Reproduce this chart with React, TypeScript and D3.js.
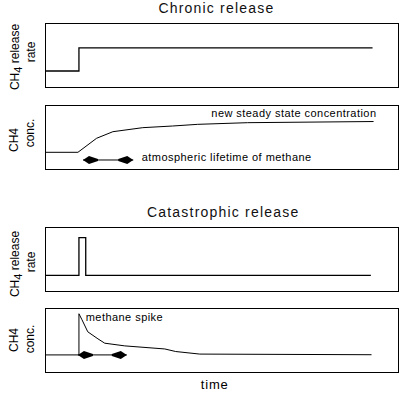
import * as d3 from "d3";
import { useEffect, useRef } from "react";

// time axis runs 0..104, values in each panel are 0..1 (box bottom to top)
const chronicRateT = [0, 10, 10, 96.5];
const chronicRateV = [0.25, 0.25, 0.61, 0.61];

const chronicConcT = [0, 9.7, 15.2, 20, 28.8, 37.6, 45, 59.7, 96.8];
const chronicConcV = [0.253, 0.253, 0.472, 0.575, 0.638, 0.664, 0.69, 0.716, 0.734];

const catRateT = [0, 10, 10, 12, 12, 96];
const catRateV = [0.245, 0.245, 0.833, 0.833, 0.245, 0.245];

const catConcT = [0, 10, 10, 10.9, 12.6, 15.6, 17.6, 23.5, 35.3, 38.5, 45.6, 96.2];
const catConcV = [0.267, 0.267, 0.91, 0.816, 0.628, 0.518, 0.45, 0.408, 0.36, 0.32, 0.28, 0.27];

const titles = ["Chronic release", "Catastrophic release"];
const yLabels = [["CH", "4", " release"], ["rate"], ["CH4"], ["conc."]];
const notes = ["new steady state concentration", "atmospheric lifetime of methane", "methane spike"];

const FONT = "'Liberation Sans', Arial, Helvetica, sans-serif";

function App() {
	const ref = useRef(null);

	useEffect(() => {
		const root = d3.select(ref.current);
		root.selectAll("*").remove();

		const width = 400;
		const height = 394;
		const left = 45;
		const right = 398;

		const svg = root.append("svg").attr("width", width).attr("height", height).style("position", "absolute").style("left", 0).style("top", 0).style("background", "#fff");

		const x = d3.scaleLinear().domain([0, 104]).range([left, right]);

		const panels = [
			{ top: 23, h: 64, t: chronicRateT, v: chronicRateV, rate: true, sub: true, cy: [2, -3], sw: 1.3 },
			{ top: 104.5, h: 64, t: chronicConcT, v: chronicConcV, rate: false, sub: false, cy: [3.5, -3.5], sw: 1 },
			{ top: 227, h: 64, t: catRateT, v: catRateV, rate: true, sub: true, cy: [5, 3], sw: 1.3 },
			{ top: 308, h: 64, t: catConcT, v: catConcV, rate: false, sub: false, cy: [0, -1], sw: 1 },
		];

		const ys = panels.map(p => d3.scaleLinear().domain([0, 1]).range([p.top + p.h, p.top]));

		panels.forEach((p, i) => {
			const y = ys[i];
			svg.append("rect").attr("x", left + 0.5).attr("y", Math.round(p.top) + 0.5).attr("width", right - left).attr("height", p.h).attr("fill", "none").attr("stroke", "#000").attr("stroke-width", 1);

			const line = d3.line().x(d => x(d[0])).y(d => y(d[1]));
			svg.append("path").datum(p.t.map((t, j) => [t, p.v[j]])).attr("fill", "none").attr("stroke", "#000").attr("stroke-width", p.sw).attr("d", line);

			// rotated axis labels
			const mid = p.top + p.h / 2;
			const l1 = svg.append("text").attr("transform", `translate(${p.rate ? 18.5 : 17.5},${mid + p.cy[0]}) rotate(-90)`).attr("text-anchor", "middle").attr("font-family", FONT).attr("font-size", 12).attr("fill", "#000");
			if (p.sub) {
				l1.append("tspan").text(yLabels[0][0]);
				l1.append("tspan").attr("dy", 3).attr("font-size", 11).text(yLabels[0][1]);
				l1.append("tspan").attr("dy", -3).text(yLabels[0][2]);
			} else {
				l1.text(yLabels[2][0]);
			}
			svg.append("text").attr("transform", `translate(${p.rate ? 34.5 : 33.5},${mid + p.cy[1]}) rotate(-90)`).attr("text-anchor", "middle").attr("font-family", FONT).attr("font-size", 12).attr("fill", "#000").text(p.rate ? yLabels[1][0] : yLabels[3][0]);
		});

		// titles
		const titleX = [50.5, 52.5];
		const titleY = [13, 217];
		titles.forEach((s, i) => {
			svg.append("text").attr("x", x(titleX[i])).attr("y", titleY[i]).attr("text-anchor", "middle").attr("font-family", FONT).attr("font-size", 14).attr("letter-spacing", 1.2).attr("fill", "#111").text(s);
		});

		// annotations
		const noteT = [49, 28.5, 12];
		const notePanel = [1, 1, 3];
		const noteV = [0.8, 0.115, 0.8];
		notes.forEach((s, i) => {
			svg.append("text").attr("x", x(noteT[i])).attr("y", ys[notePanel[i]](noteV[i])).attr("font-family", FONT).attr("font-size", 11).attr("letter-spacing", 0.45).attr("fill", "#000").text(s);
		});

		// lifetime arrows
		const arrowT0 = [11.2, 9.7];
		const arrowT1 = [26, 24.1];
		const arrowV = [0.133, 0.267];
		const arrowPanel = [1, 3];
		arrowT0.forEach((t0, i) => {
			const yy = ys[arrowPanel[i]](arrowV[i]);
			const x0 = x(t0);
			const x1 = x(arrowT1[i]);
			svg.append("line").attr("x1", x0).attr("x2", x1).attr("y1", yy).attr("y2", yy).attr("stroke", "#000").attr("stroke-width", 1);
			const head = (tip, dir) => {
				const pts = [[tip, yy], [tip + dir * 6, yy - 4], [tip + dir * 15, yy - 1], [tip + dir * 15, yy + 1], [tip + dir * 6, yy + 4]];
				svg.append("path").attr("d", d3.line()(pts) + "Z").attr("fill", "#000");
			};
			head(x0, 1);
			head(x1, -1);
		});

		// time label
		svg.append("text").attr("x", x(50)).attr("y", 389).attr("text-anchor", "middle").attr("font-family", FONT).attr("font-size", 13).attr("letter-spacing", 0.8).attr("fill", "#000").text("time");
	}, []);

	return <div ref={ref}></div>;
}

export default App;
